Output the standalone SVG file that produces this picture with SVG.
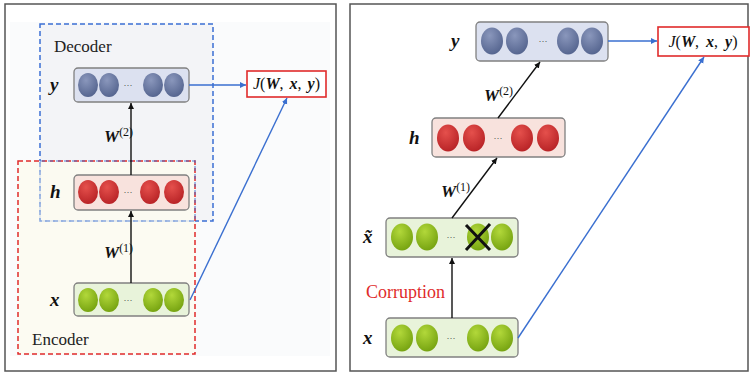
<svg xmlns="http://www.w3.org/2000/svg" width="751" height="375" viewBox="0 0 751 375">
<style>
.panel{fill:#ffffff;stroke:#555;stroke-width:1.5}
.node{stroke:#808080;stroke-width:1.3}
.ny{fill:#dce1f0}.nh{fill:#f8e2dd}.nx{fill:#e8f3da}
.var{font-family:"Liberation Serif",serif;font-weight:bold;font-style:italic;font-size:19px;fill:#111}
.w{font-family:"Liberation Serif",serif;font-weight:bold;font-style:italic;font-size:17px;fill:#111}
.sup{font-weight:normal;font-style:normal;font-size:12px}
.dots{font-family:"Liberation Sans",sans-serif;font-size:9px;fill:#555}
.lbl{font-family:"Liberation Serif",serif;font-size:17px;fill:#222}
.jt{font-family:"Liberation Serif",serif;font-size:16px;fill:#111}
.bi{font-weight:bold;font-style:italic}
.blk{stroke:#111;stroke-width:1.4;fill:none}
.blu{stroke:#3a6fd0;stroke-width:1.4;fill:none}
</style>
<defs>
<radialGradient id="gb" cx="0.4" cy="0.3" r="0.8"><stop offset="0" stop-color="#8a97bc"/><stop offset="1" stop-color="#4f5f8a"/></radialGradient>
<radialGradient id="gr" cx="0.4" cy="0.3" r="0.8"><stop offset="0" stop-color="#e5504c"/><stop offset="1" stop-color="#b31e22"/></radialGradient>
<radialGradient id="gg" cx="0.4" cy="0.3" r="0.8"><stop offset="0" stop-color="#b2d83a"/><stop offset="1" stop-color="#6f9d0c"/></radialGradient>
<marker id="ak" markerWidth="8" markerHeight="8" refX="6" refY="3" orient="auto" markerUnits="userSpaceOnUse"><path d="M0,0 L6,3 L0,6 z" fill="#111"/></marker>
<marker id="ab" markerWidth="8" markerHeight="8" refX="6" refY="3" orient="auto" markerUnits="userSpaceOnUse"><path d="M0,0 L6,3 L0,6 z" fill="#3a6fd0"/></marker>
</defs>

<!-- Left panel -->
<g id="left-panel">
<rect class="panel" x="5" y="4" width="331" height="367"/>
<rect x="10" y="22" width="320" height="334" fill="#fafbfc"/>
</g>
<g id="decoder-box">
<rect x="40" y="24" width="173" height="197" fill="#f3f4f7" stroke="#3b6fd4" stroke-width="1.5" stroke-dasharray="5,3"/>
<text class="lbl" x="54" y="52">Decoder</text>
</g>
<g id="encoder-box">
<rect x="18" y="161" width="177" height="193" fill="#fcfaf0" fill-opacity="0.85" stroke="#e02b2b" stroke-width="1.5" stroke-dasharray="5,3"/>
<text class="lbl" x="32" y="345">Encoder</text>
</g>
<rect x="40" y="161" width="155" height="60" fill="none" stroke="#3b6fd4" stroke-width="1.5" stroke-dasharray="5,3" stroke-opacity="0.6"/>

<g id="L-y">
<rect class="node ny" x="74" y="68" width="115" height="34" rx="4"/>
<ellipse cx="88" cy="85" rx="10" ry="12" fill="url(#gb)"/>
<ellipse cx="109" cy="85" rx="10" ry="12" fill="url(#gb)"/>
<text class="dots" x="128" y="88" text-anchor="middle">···</text>
<ellipse cx="153" cy="85" rx="10" ry="12" fill="url(#gb)"/>
<ellipse cx="174" cy="85" rx="10" ry="12" fill="url(#gb)"/>
<text class="var" x="50" y="91">y</text>
</g>
<g id="L-h">
<rect class="node nh" x="74" y="175" width="115" height="35" rx="4"/>
<ellipse cx="88" cy="192" rx="10" ry="12" fill="url(#gr)"/>
<ellipse cx="109" cy="192" rx="10" ry="12" fill="url(#gr)"/>
<text class="dots" x="128" y="195" text-anchor="middle">···</text>
<ellipse cx="150" cy="192" rx="10" ry="12" fill="url(#gr)"/>
<ellipse cx="174" cy="192" rx="10" ry="12" fill="url(#gr)"/>
<text class="var" x="50" y="198">h</text>
</g>
<g id="L-x">
<rect class="node nx" x="74" y="283" width="115" height="33" rx="4"/>
<ellipse cx="88" cy="300" rx="10" ry="12" fill="url(#gg)"/>
<ellipse cx="109" cy="300" rx="10" ry="12" fill="url(#gg)"/>
<text class="dots" x="128" y="303" text-anchor="middle">···</text>
<ellipse cx="153" cy="300" rx="10" ry="12" fill="url(#gg)"/>
<ellipse cx="174" cy="300" rx="10" ry="12" fill="url(#gg)"/>
<text class="var" x="50" y="306">x</text>
</g>
<g id="L-J">
<rect x="247" y="71" width="79" height="26" fill="#fff" stroke="#e02b2b" stroke-width="1.6"/>
<text class="jt" x="286.5" y="89" text-anchor="middle"><tspan font-style="italic">J</tspan>(<tspan class="bi">W</tspan>,<tspan class="bi" dx="6">x</tspan>,<tspan class="bi" dx="6">y</tspan>)</text>
</g>

<!-- Right panel -->
<g id="right-panel">
<rect class="panel" x="350" y="4" width="398" height="367"/>
</g>
<g id="R-y">
<rect class="node ny" x="476" y="22" width="132" height="39" rx="4"/>
<ellipse cx="492" cy="41" rx="11" ry="13.5" fill="url(#gb)"/>
<ellipse cx="517" cy="41" rx="11" ry="13.5" fill="url(#gb)"/>
<text class="dots" x="543" y="44" text-anchor="middle">···</text>
<ellipse cx="568" cy="41" rx="11" ry="13.5" fill="url(#gb)"/>
<ellipse cx="592" cy="41" rx="11" ry="13.5" fill="url(#gb)"/>
<text class="var" x="451" y="47">y</text>
</g>
<g id="R-h">
<rect class="node nh" x="432" y="118" width="133" height="39" rx="4"/>
<ellipse cx="448" cy="138" rx="11" ry="13.5" fill="url(#gr)"/>
<ellipse cx="474" cy="138" rx="11" ry="13.5" fill="url(#gr)"/>
<text class="dots" x="498" y="141" text-anchor="middle">···</text>
<ellipse cx="522" cy="138" rx="11" ry="13.5" fill="url(#gr)"/>
<ellipse cx="548" cy="138" rx="11" ry="13.5" fill="url(#gr)"/>
<text class="var" x="409" y="144">h</text>
</g>
<g id="R-xt">
<rect class="node nx" x="386" y="218" width="132" height="39" rx="4"/>
<ellipse cx="402" cy="237" rx="11" ry="13.5" fill="url(#gg)"/>
<ellipse cx="427" cy="237" rx="11" ry="13.5" fill="url(#gg)"/>
<text class="dots" x="451" y="240" text-anchor="middle">···</text>
<ellipse cx="478" cy="237" rx="11" ry="13.5" fill="url(#gg)"/>
<ellipse cx="502" cy="237" rx="11" ry="13.5" fill="url(#gg)"/>
<path d="M466,225 L490,250 M490,224 L466,250" stroke="#111" stroke-width="3"/>
<text class="var" x="363" y="243">x̃</text>
</g>
<g id="R-x">
<rect class="node nx" x="386" y="318" width="132" height="39" rx="4"/>
<ellipse cx="402" cy="338" rx="11" ry="13.5" fill="url(#gg)"/>
<ellipse cx="427" cy="338" rx="11" ry="13.5" fill="url(#gg)"/>
<text class="dots" x="451" y="341" text-anchor="middle">···</text>
<ellipse cx="478" cy="338" rx="11" ry="13.5" fill="url(#gg)"/>
<ellipse cx="502" cy="338" rx="11" ry="13.5" fill="url(#gg)"/>
<text class="var" x="363" y="344">x</text>
</g>
<text x="366" y="298" font-family="Liberation Serif, serif" font-size="18" fill="#e02b2b">Corruption</text>
<g id="R-J">
<rect x="658" y="27" width="91" height="29" fill="#fff" stroke="#e02b2b" stroke-width="1.6"/>
<text class="jt" x="703" y="47" text-anchor="middle" font-size="17"><tspan font-style="italic">J</tspan>(<tspan class="bi">W</tspan>,<tspan class="bi" dx="7">x</tspan>,<tspan class="bi" dx="7">y</tspan>)</text>
</g>

<g id="connectors">
<line class="blk" x1="131" y1="283" x2="131" y2="211" marker-end="url(#ak)"/>
<line class="blk" x1="131" y1="175" x2="131" y2="103" marker-end="url(#ak)"/>
<line class="blu" x1="189" y1="85" x2="246" y2="85" marker-end="url(#ab)"/>
<line class="blu" x1="190" y1="300" x2="287" y2="98" marker-end="url(#ab)"/>
<line class="blk" x1="452" y1="318" x2="452" y2="258" marker-end="url(#ak)"/>
<line class="blk" x1="452" y1="218" x2="497" y2="158" marker-end="url(#ak)"/>
<line class="blk" x1="498" y1="118" x2="540" y2="62" marker-end="url(#ak)"/>
<line class="blu" x1="608" y1="41" x2="657" y2="41" marker-end="url(#ab)"/>
<line class="blu" x1="518" y1="338" x2="704" y2="57" marker-end="url(#ab)"/>
</g>
<text class="w" x="104" y="142">W<tspan class="sup" dy="-6">(2)</tspan></text>
<text class="w" x="104" y="258">W<tspan class="sup" dy="-6">(1)</tspan></text>
<text class="w" x="484" y="101">W<tspan class="sup" dy="-6">(2)</tspan></text>
<text class="w" x="441" y="197">W<tspan class="sup" dy="-6">(1)</tspan></text>
</svg>
